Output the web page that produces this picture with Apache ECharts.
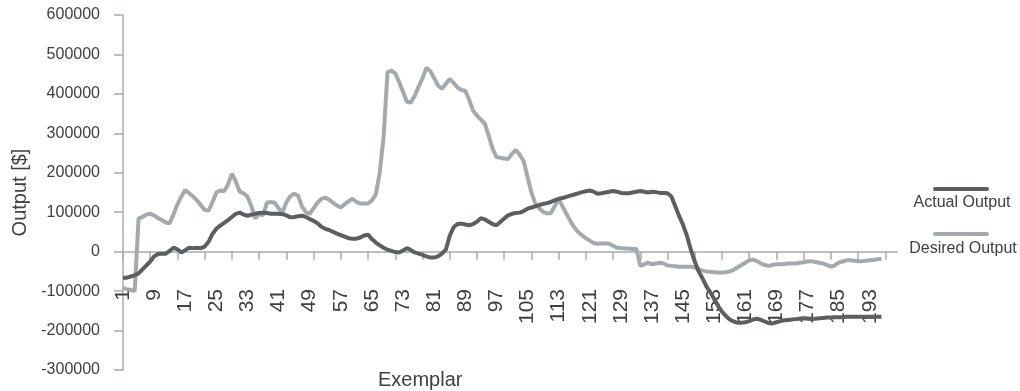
<!DOCTYPE html>
<html>
<head>
<meta charset="utf-8">
<script src="https://cdn.jsdelivr.net/npm/echarts@6/dist/echarts.min.js"></script>
<style>
  html, body { margin: 0; padding: 0; background: #fff; }
  #chart { width: 1020px; height: 391px; }
</style>
</head>
<body>
<div id="chart"></div>
<script>
// exemplar numbers on the category axis (1..200, data stops at 196)
const categories = [];
for (let i = 1; i <= 200; i++) categories.push(String(i));

const seriesNames = ["Actual Output", "Desired Output"];
const seriesColors = ["#5b5f62", "#a3aaae"];

const yTicks = { min: -300000, max: 600000, step: 100000 };

const actualOutput = [
  -66000, -66000, -63000, -60000, -55000, -45000, -35000, -25000, -12000, -6000,
  -5000, -5000, 2000, 10000, 6000, -2000, 4000, 10000, 9000, 10000,
  9000, 13000, 25000, 45000, 58000, 66000, 73000, 80000, 88000, 96000,
  99000, 94000, 91000, 94000, 96000, 98000, 99000, 98000, 96000, 96000,
  96000, 95000, 92000, 87000, 88000, 90000, 91000, 88000, 83000, 78000,
  72000, 63000, 58000, 55000, 50000, 46000, 42000, 38000, 34000, 33000,
  33000, 36000, 41000, 43000, 32000, 23000, 16000, 10000, 5000, 2000,
  -1000, -2000, 3000, 9000, 4000, -2000, -5000, -8000, -12000, -15000,
  -15000, -12000, -5000, 5000, 40000, 62000, 70000, 71000, 69000, 67000,
  70000, 76000, 85000, 82000, 76000, 70000, 67000, 75000, 84000, 92000,
  96000, 98000, 99000, 103000, 109000, 112000, 115000, 118000, 121000, 123000,
  126000, 130000, 134000, 136000, 139000, 142000, 145000, 148000, 151000, 153000,
  155000, 152000, 147000, 148000, 150000, 152000, 154000, 152000, 149000, 148000,
  148000, 150000, 152000, 154000, 152000, 150000, 152000, 151000, 149000, 149000,
  148000, 140000, 115000, 90000, 68000, 40000, 5000, -25000, -50000, -68000,
  -88000, -103000, -120000, -138000, -152000, -163000, -172000, -177000, -180000, -180000,
  -179000, -176000, -172000, -170000, -173000, -177000, -181000, -182000, -179000, -176000,
  -174000, -173000, -172000, -171000, -170000, -169000, -170000, -171000, -170000, -169000,
  -168000, -167000, -167000, -166000, -166000, -166000, -165000, -165000, -165000, -165000,
  -165000, -165000, -165000, -165000, -165000, -165000
];

const desiredOutput = [
  -92000, -95000, -97000, -100000, 84000, 88000, 94000, 96000, 92000, 85000,
  80000, 74000, 72000, 95000, 120000, 140000, 156000, 148000, 140000, 130000,
  118000, 106000, 104000, 125000, 150000, 155000, 153000, 170000, 198000, 178000,
  152000, 148000, 140000, 115000, 84000, 95000, 92000, 124000, 126000, 124000,
  110000, 100000, 125000, 140000, 147000, 142000, 115000, 100000, 96000, 110000,
  124000, 134000, 137000, 132000, 124000, 117000, 112000, 120000, 128000, 134000,
  126000, 122000, 122000, 122000, 130000, 145000, 200000, 290000, 455000, 459000,
  452000, 430000, 405000, 380000, 378000, 395000, 418000, 440000, 466000, 458000,
  440000, 421000, 413000, 425000, 438000, 428000, 416000, 410000, 408000, 385000,
  358000, 345000, 335000, 325000, 295000, 262000, 240000, 238000, 236000, 235000,
  248000, 258000, 246000, 230000, 190000, 150000, 122000, 110000, 101000, 97000,
  98000, 115000, 134000, 115000, 96000, 78000, 62000, 50000, 42000, 34000,
  28000, 22000, 20000, 21000, 21000, 20000, 15000, 10000, 9000, 8000,
  8000, 7000, 7000, -36000, -32000, -28000, -32000, -30000, -28000, -30000,
  -35000, -36000, -37000, -38000, -38000, -38000, -38000, -40000, -44000, -48000,
  -50000, -51000, -52000, -53000, -53000, -52000, -50000, -46000, -40000, -34000,
  -28000, -22000, -20000, -24000, -30000, -34000, -36000, -34000, -32000, -32000,
  -31000, -30000, -30000, -30000, -28000, -27000, -25000, -24000, -26000, -28000,
  -30000, -34000, -38000, -35000, -28000, -25000, -22000, -22000, -23000, -24000,
  -24000, -23000, -22000, -21000, -19000, -18000
];

const font = "'Liberation Sans', Arial, sans-serif";
const textColor = "#404040";
const axisColor = "#a5acb0";

const chart = echarts.init(document.getElementById("chart"));

const option = {
  animation: false,
  grid: {
    left: 123,
    right: 123,
    top: 15,
    bottom: 21,
    containLabel: false,
    outerBoundsMode: "none",
  },
  xAxis: {
    type: "category",
    data: categories,
    boundaryGap: false,
    axisLine: {
      onZero: true,
      lineStyle: { color: axisColor, width: 1.5 },
    },
    axisTick: {
      show: true,
      interval: 6,
      length: 8,
      lineStyle: { color: axisColor, width: 1.5 },
    },
    axisLabel: {
      interval: 7,
      rotate: 90,
      // labels hang just under the zero line, as in the original
      margin: -81,
      hideOverlap: false,
      color: textColor,
      fontSize: 21,
      fontFamily: font,
      // invisible leading digits give every label the width of "000",
      // so the visible digits all start at the same height
      formatter: (v) => {
        const pad = "0".repeat(Math.max(0, 3 - v.length));
        return (pad ? "{p|" + pad + "}" : "") + "{n|" + v + "}";
      },
      rich: {
        p: {
          color: "rgba(0,0,0,0)",
          fontSize: 21,
          fontFamily: font,
        },
        n: {
          color: textColor,
          fontSize: 21,
          fontFamily: font,
        },
      },
    },
    splitLine: { show: false },
  },
  yAxis: {
    type: "value",
    min: yTicks.min,
    max: yTicks.max,
    interval: yTicks.step,
    name: "Output [$]",
    nameLocation: "middle",
    nameGap: 92,
    nameTextStyle: {
      color: textColor,
      fontSize: 20,
      fontFamily: font,
    },
    axisLine: {
      show: true,
      lineStyle: { color: axisColor, width: 1.5 },
    },
    axisTick: {
      show: true,
      length: 9,
      lineStyle: { color: axisColor, width: 1.5 },
    },
    axisLabel: {
      margin: 23,
      color: textColor,
      fontSize: 16,
      fontFamily: font,
      formatter: (v) => String(v),
    },
    splitLine: { show: false },
  },
  series: [
    {
      name: seriesNames[0],
      type: "line",
      data: actualOutput,
      symbol: "none",
      z: 3,
      lineStyle: { color: seriesColors[0], width: 4 },
    },
    {
      name: seriesNames[1],
      type: "line",
      data: desiredOutput,
      symbol: "none",
      z: 2,
      lineStyle: { color: seriesColors[1], width: 4 },
    },
  ],
  graphic: [
    // x axis title sits left of the plot centre, like the original
    {
      type: "text",
      left: 378,
      top: 370,
      style: { text: "Exemplar", fill: textColor, font: "20px " + font },
    },
    // legend: swatch above, label below
    {
      type: "line",
      shape: { x1: 935, y1: 189, x2: 987, y2: 189 },
      style: { stroke: seriesColors[0], lineWidth: 4, lineCap: "round" },
    },
    {
      type: "text",
      x: 962,
      y: 203,
      style: {
        text: seriesNames[0], fill: textColor, font: "16px " + font,
        align: "center", verticalAlign: "middle",
      },
    },
    {
      type: "line",
      shape: { x1: 935, y1: 234, x2: 987, y2: 234 },
      style: { stroke: seriesColors[1], lineWidth: 4, lineCap: "round" },
    },
    {
      type: "text",
      x: 963,
      y: 249,
      style: {
        text: seriesNames[1], fill: textColor, font: "16px " + font,
        align: "center", verticalAlign: "middle",
      },
    },
  ],
};

chart.setOption(option);
window.addEventListener("resize", () => chart.resize());
</script>
</body>
</html>
